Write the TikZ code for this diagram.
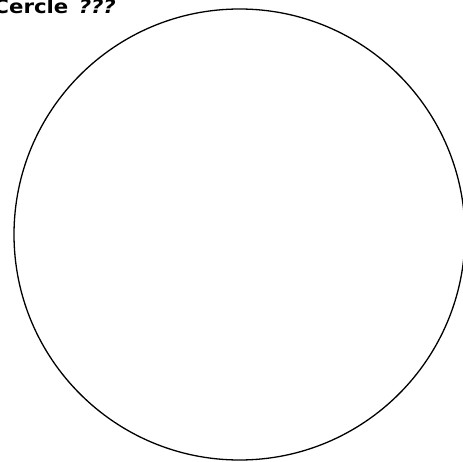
\documentclass[tikz,border=0pt]{standalone}
\usepackage{fontspec}
\setmainfont{DejaVu Sans}
\newfontfamily\titlefont[FakeStretch=1.12]{DejaVu Sans}
\begin{document}
\begin{tikzpicture}[x=1pt,y=1pt,
  outline/.style={draw=black,line width=1.3pt},
  titletext/.style={inner sep=0pt,font=\titlefont\fontsize{19}{22}\selectfont\bfseries}]
\useasboundingbox (0,0) rectangle (463,461);
\clip (0,0) rectangle (463,461);
\node[outline,circle,minimum size=451pt,inner sep=0pt] (c) at (239.5,226.5) {};
\node[titletext,anchor=base east] (t) at (116,447) {Cercle\hspace{3pt} \textit{???}};
\end{tikzpicture}
\end{document}
